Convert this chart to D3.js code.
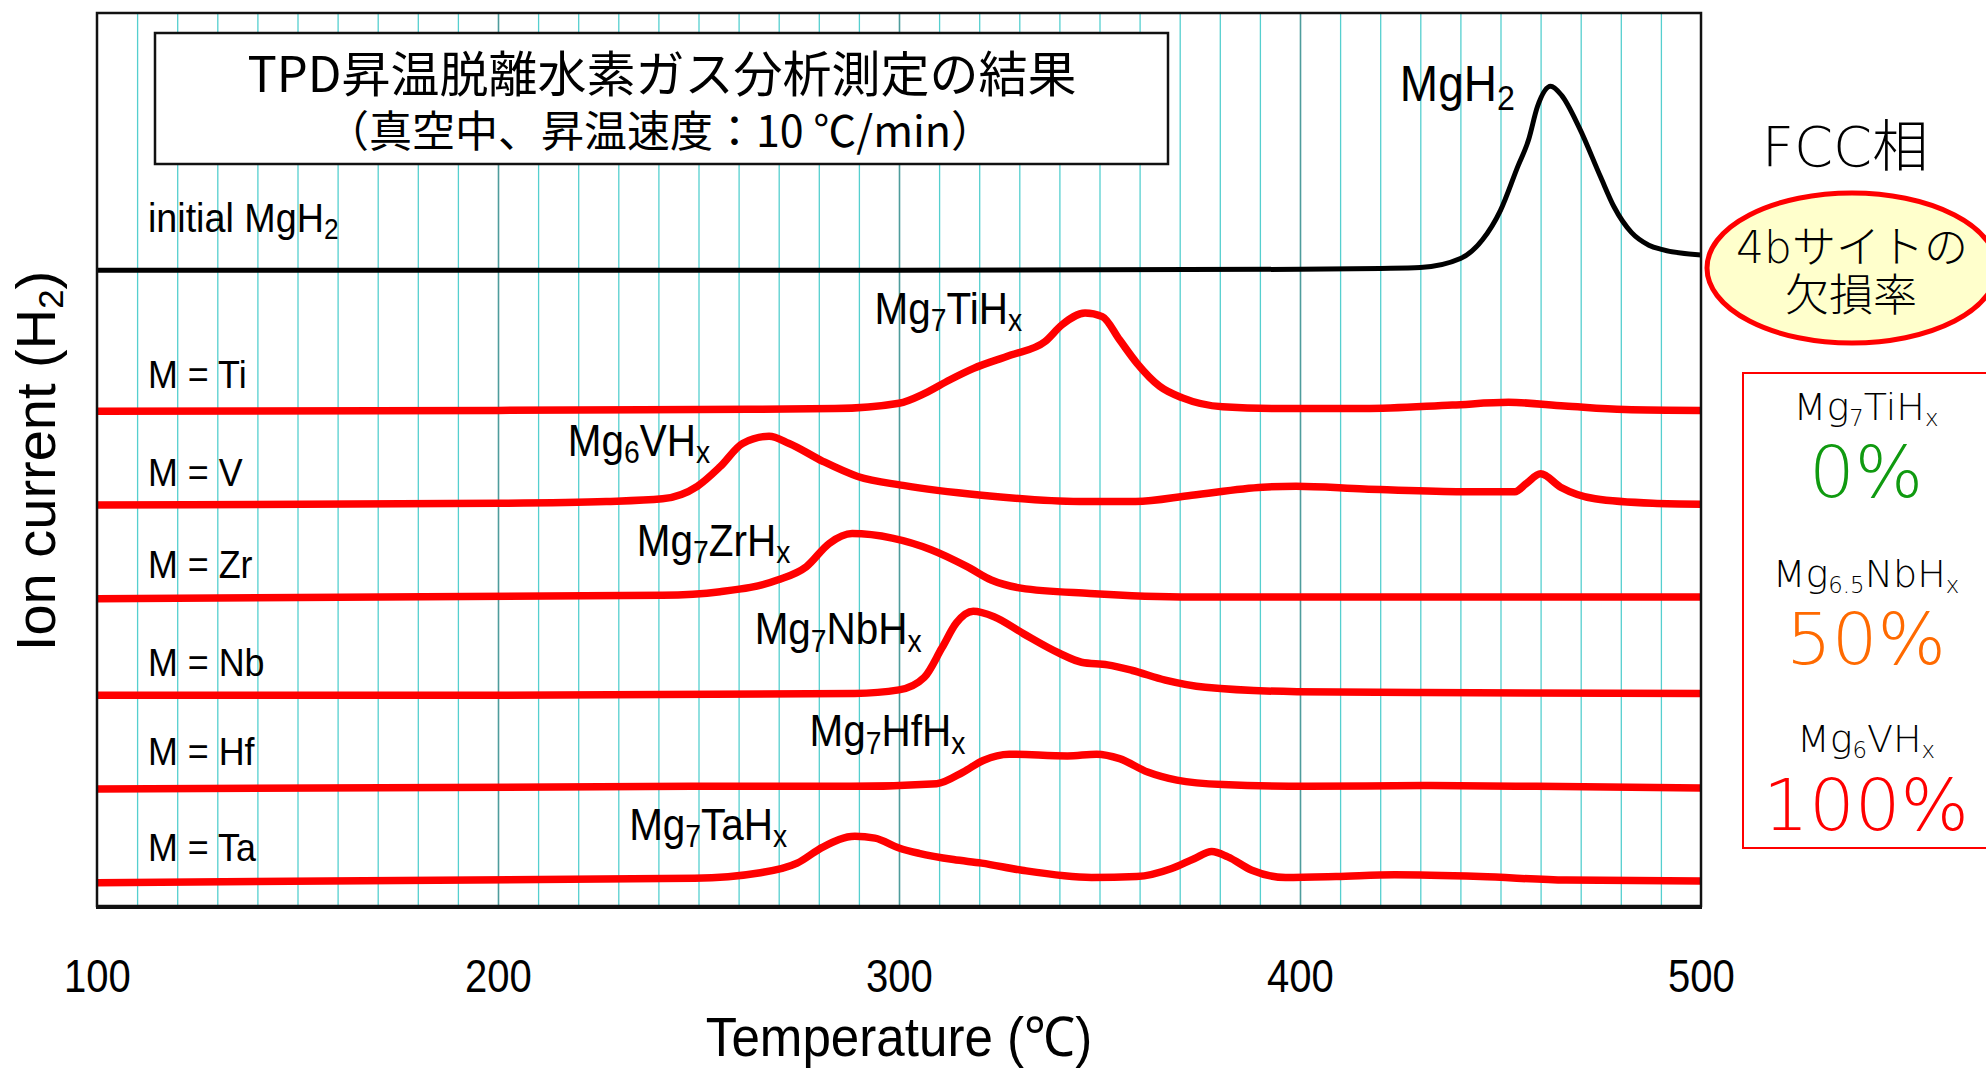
<!DOCTYPE html>
<html><head><meta charset="utf-8">
<script src="https://cdn.jsdelivr.net/npm/d3@7"></script>
<style>html,body{margin:0;padding:0;background:#fff;} svg{display:block;}</style>
</head><body>
<svg id="chart" width="1986" height="1068"></svg>
<script>
// ---------------- data ----------------
const xTicks = [100, 200, 300, 400, 500];
const gridTicks = d3.range(110, 500, 10);

const seriesNames = ["initial MgH_{2}", "M = Ti", "M = V", "M = Zr", "M = Nb", "M = Hf", "M = Ta"];
const peakNames = ["MgH_{2}", "Mg_{7}TiH_{x}", "Mg_{6}VH_{x}", "Mg_{7}ZrH_{x}", "Mg_{7}NbH_{x}", "Mg_{7}HfH_{x}", "Mg_{7}TaH_{x}"];

// temperature (°C) and ion current (a.u., curves stacked with offsets)
const tempInitial = [100, 200, 300, 400, 420, 430, 440, 445.5, 450, 454.3, 457, 459.2, 462.5, 465.2, 469.6, 475, 478.3, 482.7, 487, 490.4, 500];
const ionInitial  = [7.12, 7.12, 7.12, 7.13, 7.14, 7.15, 7.25, 7.46, 7.79, 8.28, 8.58, 8.95, 9.18, 9.08, 8.72, 8.16, 7.83, 7.54, 7.40, 7.35, 7.29];

const tempTi = [100, 200, 250, 284, 300, 306.4, 312.6, 318.6, 327.9, 336.4, 340.7, 346.4, 350.7, 355, 359.3, 365, 370.7, 380.7, 395, 416, 438, 452, 466, 481, 500];
const ionTi  = [5.54, 5.55, 5.56, 5.57, 5.63, 5.74, 5.89, 6.02, 6.17, 6.32, 6.51, 6.64, 6.60, 6.34, 6.08, 5.82, 5.69, 5.59, 5.57, 5.57, 5.61, 5.64, 5.60, 5.56, 5.55];

const tempV = [100, 200, 227, 241, 249.7, 255.4, 261, 267.6, 272.6, 281, 289.7, 301, 320.6, 345, 359, 373, 390.7, 399, 416, 439, 453.6, 456.4, 460, 465, 473.6, 488, 500];
const ionV  = [4.49, 4.51, 4.53, 4.56, 4.70, 4.92, 5.18, 5.26, 5.18, 4.98, 4.81, 4.71, 4.60, 4.53, 4.53, 4.60, 4.69, 4.70, 4.67, 4.64, 4.64, 4.73, 4.84, 4.69, 4.56, 4.51, 4.50];

const tempZr = [100, 241, 255.4, 269.7, 276.9, 282.6, 288.3, 298.3, 308, 317, 323, 330.4, 347.6, 373, 416, 500];
const ionZr  = [3.44, 3.48, 3.52, 3.65, 3.80, 4.06, 4.17, 4.12, 3.99, 3.80, 3.65, 3.56, 3.50, 3.46, 3.46, 3.46];

const tempNb = [100, 200, 289, 300, 306.3, 310.7, 314.3, 318.5, 323.7, 331, 340, 345.5, 352, 358, 366.4, 376.4, 399.3, 430.7, 500];
const ionNb  = [2.36, 2.36, 2.38, 2.42, 2.56, 2.89, 3.17, 3.30, 3.24, 3.05, 2.83, 2.73, 2.70, 2.64, 2.53, 2.45, 2.40, 2.39, 2.38];

const tempHf = [100, 257, 288, 309.4, 316, 321, 327.5, 342, 349.3, 355, 362, 369.3, 380.7, 402, 430.7, 459, 500];
const ionHf  = [1.31, 1.34, 1.34, 1.37, 1.50, 1.63, 1.70, 1.68, 1.70, 1.65, 1.50, 1.41, 1.36, 1.34, 1.35, 1.34, 1.32];

const tempTa = [100, 249, 265, 274.6, 281, 289, 294, 300, 305, 313.6, 320.6, 330.7, 348, 359.3, 368, 373.6, 378, 382, 388, 396.4, 409, 423.6, 445, 466.4, 500];
const ionTa  = [0.26, 0.31, 0.37, 0.48, 0.66, 0.78, 0.76, 0.65, 0.59, 0.52, 0.48, 0.40, 0.32, 0.33, 0.42, 0.53, 0.61, 0.55, 0.40, 0.32, 0.33, 0.35, 0.33, 0.29, 0.28];

// annotation anchors in data units (temperature, ion current)
const nameAnchorT = [112.7, 112.7, 112.7, 112.7, 112.7, 112.7, 112.7];
const nameAnchorI = [7.55, 5.80, 4.70, 3.67, 2.57, 1.58, 0.50];
const peakAnchorT = [424.9, 293.9, 217.4, 234.6, 264.0, 277.7, 232.7];
const peakAnchorI = [9.01, 6.52, 5.04, 3.92, 2.93, 1.79, 0.74];

// right-hand panel: FCC phase 4b-site vacancy ratio
const fccPhases = ["Mg_{7}TiH_{x}", "Mg_{6.5}NbH_{x}", "Mg_{6}VH_{x}"];
const fccVacancy = ["0%", "50%", "100%"];

const titleLines = ["TPD昇温脱離水素ガス分析測定の結果", "（真空中、昇温速度：10 ℃/min）"];

// ---------------- drawing ----------------
const temps = [tempInitial, tempTi, tempV, tempZr, tempNb, tempHf, tempTa];
const ions = [ionInitial, ionTi, ionV, ionZr, ionNb, ionHf, ionTa];
const lineColors = ["#000000", "#ff0000", "#ff0000", "#ff0000", "#ff0000", "#ff0000", "#ff0000"];
const lineWidths = [5, 7.5, 7.5, 7.5, 7.5, 7.5, 7.5];
const vacancyColors = ["#109a10", "#ff6a00", "#ff0000"];

const P = {left: 97, right: 1701, top: 13, bottom: 906};
const svg = d3.select("#chart");
svg.append("rect").attr("width", 1986).attr("height", 1068).attr("fill", "#fff");

const x = d3.scaleLinear().domain([100, 500]).range([P.left, P.right]);
const y = d3.scaleLinear().domain([0, 10]).range([P.bottom, P.top]);

const NARROW = "'Liberation Sans', Arial, sans-serif";
const CJK = "'Noto Sans CJK JP', 'Noto Sans CJK SC', sans-serif";
const ROUND = "'DejaVu Sans', 'Noto Sans CJK JP', sans-serif";

function rich(parent, px, py, str, o) {
  const g = parent.append("g").attr("transform", `translate(${px},${py}) scale(${o.sx || 1},1)`);
  const t = g.append("text").attr("x", 0).attr("y", 0)
    .attr("font-family", o.font).attr("font-size", o.size)
    .attr("font-weight", o.weight || "normal")
    .attr("fill", o.color || "#000")
    .attr("text-anchor", o.anchor || "start");
  const parts = str.split(/_\{([^}]*)\}/);
  const subSize = o.size * (o.subScale || 0.65);
  const shift = o.size * (o.subShift || 0.18);
  parts.forEach((p, i) => {
    if (p === "") return;
    if (i % 2 === 1) {
      t.append("tspan").attr("font-size", subSize).attr("dy", shift).text(p);
    } else {
      t.append("tspan").attr("dy", i >= 2 ? -shift : 0).text(p);
    }
  });
  return g;
}

// clip
svg.append("defs").append("clipPath").attr("id", "plotClip")
  .append("rect").attr("x", P.left).attr("y", P.top)
  .attr("width", P.right - P.left).attr("height", P.bottom - P.top);

// gridlines
const grid = svg.append("g").attr("transform", `translate(0,${P.bottom})`)
  .call(d3.axisBottom(x).tickValues(gridTicks).tickSize(-(P.bottom - P.top)).tickFormat(""));
grid.select(".domain").remove();
grid.selectAll(".tick line")
  .attr("stroke", d => d % 100 === 0 ? "#4e9c9c" : "#55cfcf")
  .attr("stroke-width", d => d % 100 === 0 ? 1.6 : 1.3);

// title box
svg.append("rect").attr("x", 155).attr("y", 33).attr("width", 1013).attr("height", 131)
  .attr("fill", "#fff").attr("stroke", "#111").attr("stroke-width", 2.5);
svg.append("text").attr("x", 662).attr("y", 92).attr("text-anchor", "middle")
  .attr("font-family", CJK).attr("font-size", 49).attr("font-weight", 400)
  .text(titleLines[0]);
svg.append("text").attr("x", 660).attr("y", 147).attr("text-anchor", "middle")
  .attr("font-family", CJK).attr("font-size", 43).attr("font-weight", 400)
  .text(titleLines[1]);

// series
const line = d3.line().x(d => x(d[0])).y(d => y(d[1])).curve(d3.curveMonotoneX);
const lines = svg.append("g").attr("clip-path", "url(#plotClip)");
temps.forEach((T, i) => {
  const pts = T.map((t, j) => [t, ions[i][j]]);
  lines.append("path").datum(pts).attr("d", line)
    .attr("fill", "none").attr("stroke", lineColors[i]).attr("stroke-width", lineWidths[i])
    .attr("stroke-linejoin", "round").attr("stroke-linecap", "round");
});

// frame
svg.append("rect").attr("x", P.left).attr("y", P.top)
  .attr("width", P.right - P.left).attr("height", P.bottom - P.top)
  .attr("fill", "none").attr("stroke", "#111").attr("stroke-width", 2.5);
svg.append("line").attr("x1", P.left - 1).attr("x2", P.right + 1)
  .attr("y1", P.bottom + 1).attr("y2", P.bottom + 1)
  .attr("stroke", "#111").attr("stroke-width", 4);

// series names & peak labels
seriesNames.forEach((n, i) => {
  rich(svg, x(nameAnchorT[i]), y(nameAnchorI[i]), n,
    {font: NARROW, size: i === 0 ? 41 : 39, sx: 0.92, subScale: 0.7, subShift: 0.17});
});
peakNames.forEach((n, i) => {
  rich(svg, x(peakAnchorT[i]), y(peakAnchorI[i]), n,
    {font: NARROW, size: i === 0 ? 50 : 44, sx: 0.92, subScale: 0.7, subShift: 0.17});
});

// x axis labels
const xa = svg.append("g").attr("transform", `translate(0,${P.bottom})`)
  .call(d3.axisBottom(x).tickValues(xTicks).tickSize(0).tickPadding(0));
xa.select(".domain").remove();
xa.selectAll(".tick text")
  .attr("y", 992 - P.bottom).attr("dy", 0)
  .attr("font-family", NARROW).attr("font-size", 46).attr("fill", "#000")
  .attr("transform", "scale(0.87,1)");

// axis titles
rich(svg, 899, 1056, "Temperature (℃)", {font: NARROW, size: 55, sx: 0.93, anchor: "middle"});
const yt = svg.append("g").attr("transform", "translate(55,461) rotate(-90)");
rich(yt, 0, 0, "Ion current (H_{2})", {font: NARROW, size: 56, anchor: "middle", subScale: 0.62, subShift: 0.15});

// right panel
svg.append("text").attr("x", 1845).attr("y", 166).attr("text-anchor", "middle")
  .attr("font-family", ROUND).attr("font-size", 56).attr("font-weight", 200).text("FCC相");
svg.append("ellipse").attr("cx", 1852).attr("cy", 268).attr("rx", 145).attr("ry", 75)
  .attr("fill", "#ffffcc").attr("stroke", "#ff0000").attr("stroke-width", 5);
svg.append("text").attr("x", 1852).attr("y", 263).attr("text-anchor", "middle")
  .attr("font-family", ROUND).attr("font-size", 44).attr("font-weight", 200).text("4bサイトの");
svg.append("text").attr("x", 1851).attr("y", 311).attr("text-anchor", "middle")
  .attr("font-family", ROUND).attr("font-size", 44).attr("font-weight", 200).text("欠損率");

svg.append("rect").attr("x", 1743).attr("y", 373).attr("width", 260).attr("height", 475)
  .attr("fill", "none").attr("stroke", "#ff0000").attr("stroke-width", 2);
const phaseY = [420, 587, 752];
const pctY = [497, 664, 830];
fccPhases.forEach((p, i) => {
  rich(svg, 1866, phaseY[i], p, {font: ROUND, size: 38, weight: 200, anchor: "middle", subScale: 0.6, subShift: 0.16});
  svg.append("text").attr("x", 1866).attr("y", pctY[i]).attr("text-anchor", "middle")
    .attr("font-family", ROUND).attr("font-size", 72).attr("font-weight", 200)
    .attr("fill", vacancyColors[i]).text(fccVacancy[i]);
});
</script>
</body></html>
